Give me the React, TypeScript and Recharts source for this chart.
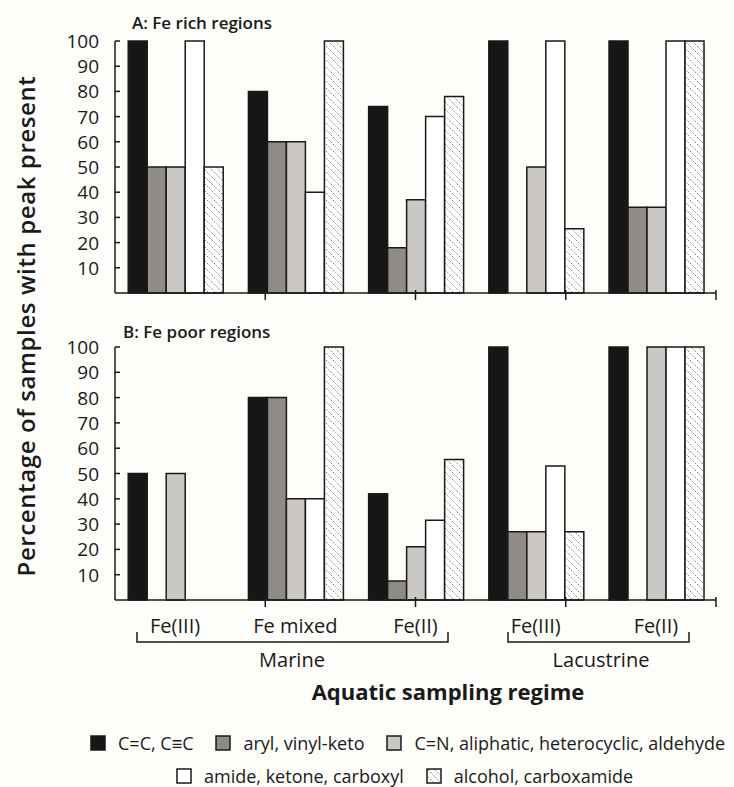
import { BarChart, Bar, XAxis, YAxis } from 'recharts';

const groupKeys = ['marineFe3', 'marineMixed', 'marineFe2', 'lakeFe3', 'lakeFe2'];
const groupLabels = ['Fe(III)', 'Fe mixed', 'Fe(II)', 'Fe(III)', 'Fe(II)'];
const yTicks = [10, 20, 30, 40, 50, 60, 70, 80, 90, 100];
const edgeTicks = [1, 2, 3, 4, 5];

// A: Fe rich regions
const richCC = [100, 80, 74, 100, 100];
const richAryl = [50, 60, 18, 0, 34];
const richCN = [50, 60, 37, 50, 34];
const richAmide = [100, 40, 70, 100, 100];
const richAlcohol = [50, 100, 78, 25.5, 100];

// B: Fe poor regions
const poorCC = [50, 80, 42, 100, 100];
const poorAryl = [0, 80, 7.5, 27, 0];
const poorCN = [50, 40, 21, 27, 100];
const poorAmide = [0, 40, 31.5, 53, 100];
const poorAlcohol = [0, 100, 55.5, 27, 100];

const series = [
  { key: 'cc', name: 'C=C, C≡C', fill: '#161616' },
  { key: 'aryl', name: 'aryl, vinyl-keto', fill: '#8e8b88' },
  { key: 'cn', name: 'C=N, aliphatic, heterocyclic, aldehyde', fill: '#cbc7c4' },
  { key: 'amide', name: 'amide, ketone, carboxyl', fill: '#ffffff' },
  { key: 'alcohol', name: 'alcohol, carboxamide', fill: 'url(#hatch)' },
];

const buildRows = (cc, aryl, cn, amide, alcohol) =>
  groupKeys.map((key, i) => ({ key, cc: cc[i], aryl: aryl[i], cn: cn[i], amide: amide[i], alcohol: alcohol[i] }));

const richRows = buildRows(richCC, richAryl, richCN, richAmide, richAlcohol);
const poorRows = buildRows(poorCC, poorAryl, poorCN, poorAmide, poorAlcohol);

const font = "'Open Sans', sans-serif";
const ink = '#1a1a1a';

const YTick = ({ x, y, payload }) => (
  <g>
    <line x1={x} x2={x + 5} y1={y} y2={y} stroke={ink} strokeWidth={1.5} />
    <text x={x - 16} y={y} dy={7} textAnchor="end" fontSize={19} fontFamily={font} fill={ink}>
      {payload.value}
    </text>
  </g>
);

// the edge axis sits 1px under the category axis
const EdgeTick = ({ x, y }) => (
  <line x1={x} x2={x} y1={y - 4} y2={y + 6} stroke={ink} strokeWidth={1.5} />
);

const GroupTick = ({ x, y, payload }) => (
  <text x={x} y={y + 33} textAnchor="middle" fontSize={20} fontFamily={font} fill={ink}>
    {groupLabels[groupKeys.indexOf(payload.value)]}
  </text>
);

function Panel({ rows, top, title, showLabels }) {
  return (
    <div style={{ position: 'absolute', left: 0, top }}>
      <BarChart
        width={734}
        height={showLabels ? 380 : 300}
        data={rows}
        margin={{ top: showLabels ? 47 : 41, right: 18, bottom: showLabels ? 78 : 5, left: 0 }}
        barCategoryGap="11%"
        barGap={0}
      >
        <YAxis
          width={115}
          domain={[0, 100]}
          ticks={yTicks}
          interval={0}
          tickLine={false}
          tickSize={0}
          tickMargin={0}
          axisLine={{ stroke: ink, strokeWidth: 1.5 }}
          tick={<YTick />}
        />
        <XAxis
          dataKey="key"
          height={1}
          tickLine={false}
          tickSize={0}
          tickMargin={0}
          interval={0}
          axisLine={{ stroke: ink, strokeWidth: 1.5 }}
          tick={showLabels ? <GroupTick /> : false}
        />
        <XAxis
          xAxisId="edge"
          type="number"
          domain={[0, 5]}
          ticks={edgeTicks}
          interval={0}
          height={1}
          axisLine={false}
          tickLine={false}
          tickSize={0}
          tickMargin={0}
          tick={<EdgeTick />}
        />
        {series.map((s) => (
          <Bar
            key={s.key}
            dataKey={s.key}
            name={s.name}
            fill={s.fill}
            stroke={ink}
            strokeWidth={1.5}
            isAnimationActive={false}
          />
        ))}
      </BarChart>
      <div
        style={{
          position: 'absolute',
          left: showLabels ? 123 : 132,
          top: showLabels ? 20 : 11,
          fontFamily: font,
          fontWeight: 600,
          fontSize: 17,
          color: ink,
        }}
      >
        {title}
      </div>
    </div>
  );
}

function Swatch({ fill }) {
  return (
    <svg width={16} height={16} style={{ display: 'block' }}>
      <rect x={1} y={1} width={14} height={14} fill={fill} stroke={ink} strokeWidth={1.5} />
    </svg>
  );
}

function LegendRow({ items, left, top }) {
  return (
    <div
      style={{
        position: 'absolute',
        left,
        top,
        display: 'flex',
        alignItems: 'center',
        gap: 22,
        fontFamily: font,
        fontSize: 18,
        color: ink,
        whiteSpace: 'nowrap',
      }}
    >
      {items.map((s) => (
        <div key={s.key} style={{ display: 'flex', alignItems: 'center', gap: 12 }}>
          <Swatch fill={s.fill} />
          <span>{s.name}</span>
        </div>
      ))}
    </div>
  );
}

export default function App() {
  return (
    <div
      style={{
        position: 'absolute',
        left: 0,
        top: 0,
        width: 734,
        height: 787,
        background: '#fdfdfa',
        overflow: 'hidden',
      }}
    >
      <svg width={0} height={0} style={{ position: 'absolute' }}>
        <defs>
          <pattern id="hatch" patternUnits="userSpaceOnUse" width={7} height={7}>
            <rect width={7} height={7} fill="#ffffff" />
            <path d="M-1,-1 L8,8" stroke="#666" strokeWidth={0.8} strokeDasharray="2 1.5" />
          </pattern>
        </defs>
      </svg>

      <Panel rows={richRows} top={0} title="A: Fe rich regions" showLabels={false} />
      <Panel rows={poorRows} top={300} title="B: Fe poor regions" showLabels />

      <svg width={734} height={787} style={{ position: 'absolute', left: 0, top: 0, pointerEvents: 'none' }}>
        <path d="M137,632 V642 H448 V632" fill="none" stroke={ink} strokeWidth={1.5} />
        <path d="M508,632 V642 H689 V632" fill="none" stroke={ink} strokeWidth={1.5} />
        <text x={292} y={667} textAnchor="middle" fontSize={20} fontFamily={font} fill={ink}>
          Marine
        </text>
        <text x={601} y={667} textAnchor="middle" fontSize={20} fontFamily={font} fill={ink}>
          Lacustrine
        </text>
        <text x={448} y={700} textAnchor="middle" fontSize={22} fontWeight={700} fontFamily={font} fill={ink}>
          Aquatic sampling regime
        </text>
        <text
          transform="translate(35,326) rotate(-90)"
          textAnchor="middle"
          fontSize={24}
          fontWeight={600}
          letterSpacing={0.6}
          fontFamily={font}
          fill={ink}
        >
          Percentage of samples with peak present
        </text>
      </svg>

      <LegendRow items={series.slice(0, 3)} left={90} top={731} />
      <LegendRow items={series.slice(3)} left={176} top={764} />
    </div>
  );
}
